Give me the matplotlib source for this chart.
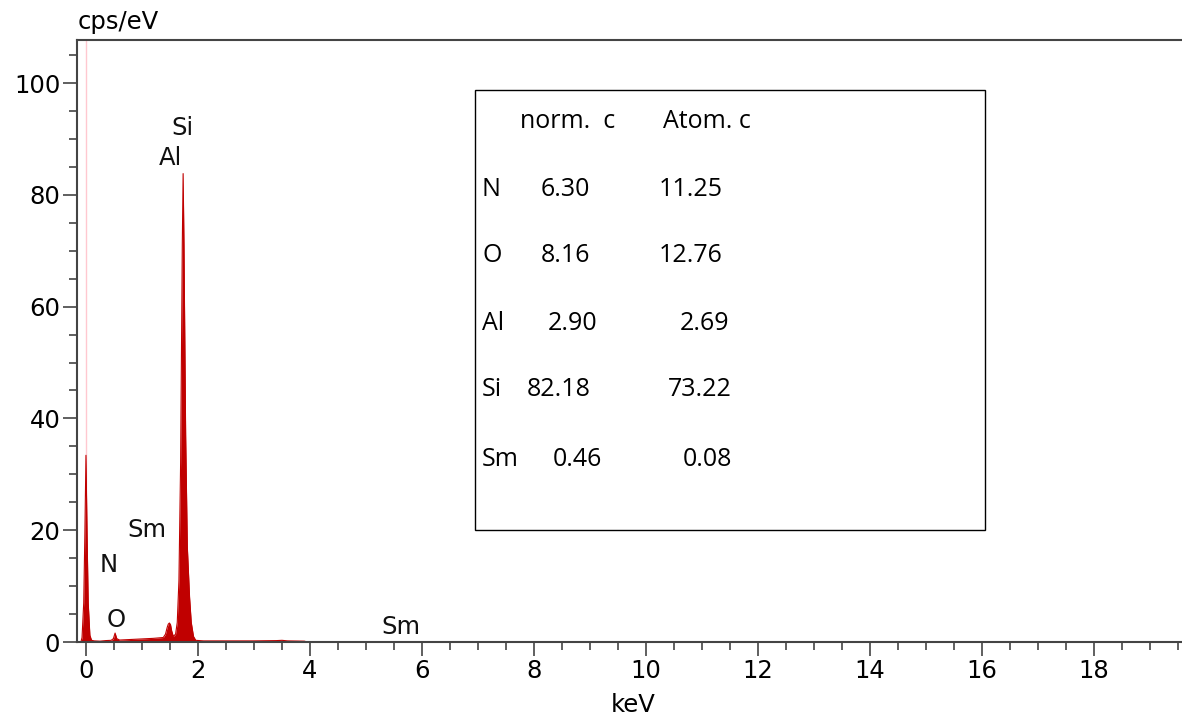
import matplotlib.pyplot as plt
from matplotlib.ticker import MultipleLocator

# EDS spectrum outline (keV, cps/eV)
energy = [-0.16, -0.09, -0.07, -0.04, -0.02, 0.0, 0.02, 0.04, 0.07, 0.10, 0.15,
          0.25, 0.35, 0.45, 0.49, 0.52, 0.55, 0.60, 0.80, 1.00, 1.20, 1.38,
          1.42, 1.45, 1.47, 1.49, 1.51, 1.53, 1.56, 1.60, 1.63, 1.66, 1.69,
          1.72, 1.735, 1.75, 1.78, 1.81, 1.85, 1.88, 1.92, 1.96, 2.10, 2.60,
          3.00, 3.40, 3.50, 3.60, 3.90, 3.95]
counts = [0.0, 0.0, 0.8, 7.0, 19.0, 33.4, 19.0, 7.0, 1.2, 0.3, 0.2,
          0.15, 0.25, 0.3, 0.6, 1.6, 0.6, 0.35, 0.45, 0.55, 0.65, 0.8,
          1.4, 2.6, 3.2, 3.4, 3.1, 2.0, 1.0, 1.4, 3.5, 11.0, 32.0,
          71.0, 83.8, 71.0, 37.0, 17.0, 8.0, 3.5, 1.0, 0.3, 0.2, 0.2,
          0.2, 0.25, 0.3, 0.2, 0.15, 0.0]

# element markers on the spectrum
peak_labels = ["Si", "Al", "Sm", "N", "O", "Sm"]
peak_x = [1.73, 1.50, 1.09, 0.41, 0.54, 5.63]
peak_y = [92.0, 86.6, 20.0, 13.8, 3.9, 2.7]

# quantification table
elements = ["N", "O", "Al", "Si", "Sm"]
norm_c = ["6.30", "8.16", "2.90", "82.18", "0.46"]
atom_c = ["11.25", "12.76", "2.69", "73.22", "0.08"]

W, H = 1182, 719
fig = plt.figure(figsize=(W / 100, H / 100), dpi=100)
ax = fig.add_axes([77 / W, 77 / H, 1 - 77 / W, (642 - 40) / H])

red = "#c00000"
ax.axvline(0, color="#ffc8d0", lw=1, zorder=1)
ax.fill_between(energy, counts, 0, color=red, lw=0, zorder=2)
ax.plot(energy, counts, color=red, lw=0.8, zorder=2)

ax.set_xlim(-0.16, 19.57)
ax.set_ylim(0, 107.7)
ax.xaxis.set_major_locator(MultipleLocator(2))
ax.xaxis.set_minor_locator(MultipleLocator(0.5))
ax.yaxis.set_major_locator(MultipleLocator(20))
ax.yaxis.set_minor_locator(MultipleLocator(5))

spine_col = "#444444"
ax.spines["right"].set_visible(False)
for s in ["left", "top", "bottom"]:
    ax.spines[s].set_color(spine_col)
    ax.spines[s].set_linewidth(1.5)
ax.tick_params(which="major", length=10, width=1.2, color=spine_col,
               labelsize=17.5, pad=2)
ax.tick_params(which="minor", length=6, width=1.2, color=spine_col)
ax.tick_params(axis="x", which="both", top=False)

for lab, x, y in zip(peak_labels, peak_x, peak_y):
    ax.text(x, y, lab, fontsize=17.5, ha="center", va="center", color="#111111")

fig.text(118 / W, 1 - 22 / H, "cps/eV", fontsize=17.5, ha="center", va="center")
fig.text(633 / W, 1 - 705 / H, "keV", fontsize=17.5, ha="center", va="center")

# table box
box = plt.Rectangle((475 / W, 1 - 530 / H), (985 - 475) / W, (530 - 90) / H,
                    transform=fig.transFigure, fill=False, ec="black", lw=1)
fig.add_artist(box)

tfont = dict(fontsize=18, family="Open Sans", va="center", ha="left")
fig.text(520 / W, 1 - 122 / H, "norm.  c", **tfont)
fig.text(663 / W, 1 - 122 / H, "Atom. c", **tfont)
row_y = [190, 256, 324, 390, 460]
norm_x = [541, 541, 548, 527, 553]
atom_x = [659, 659, 680, 668, 683]
for i, el in enumerate(elements):
    y = 1 - row_y[i] / H
    fig.text(482 / W, y, el, **tfont)
    fig.text(norm_x[i] / W, y, norm_c[i], **tfont)
    fig.text(atom_x[i] / W, y, atom_c[i], **tfont)

fig.savefig("out.png", dpi=100)
